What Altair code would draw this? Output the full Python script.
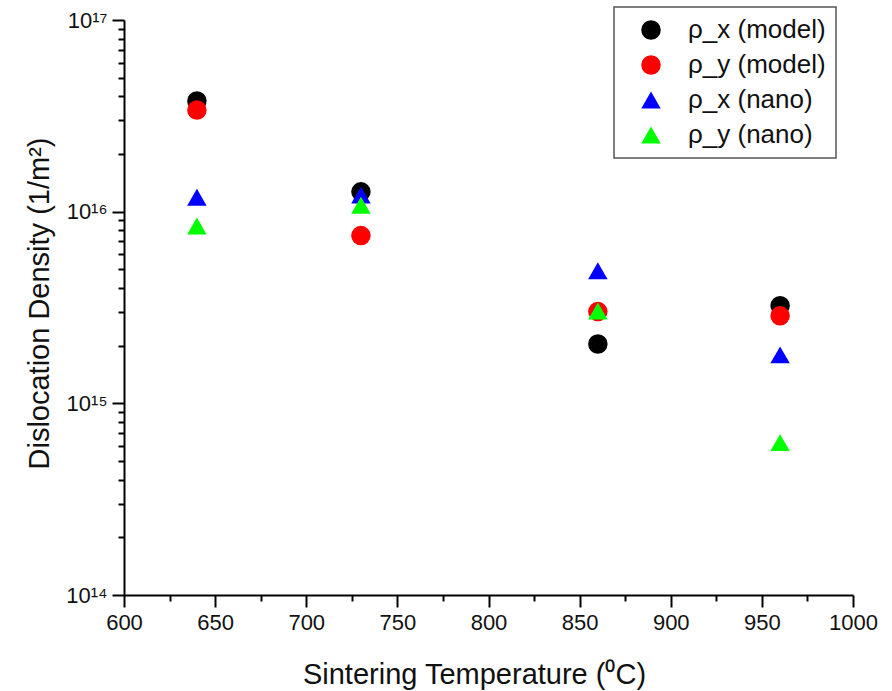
import altair as alt
import pandas as pd

temps = [640, 730, 860, 960]
rho_x_model = [3.78e16, 1.27e16, 2.04e15, 3.23e15]
rho_y_model = [3.39e16, 7.5e15, 3.01e15, 2.86e15]
rho_x_nano = [1.19e16, 1.22e16, 4.92e15, 1.79e15]
rho_y_nano = [8.42e15, 1.08e16, 3.03e15, 6.24e14]

series = ["ρ_x (model)", "ρ_y (model)", "ρ_x (nano)", "ρ_y (nano)"]
colors = ["#000000", "#ff0000", "#0000ff", "#00ff00"]
shapes = ["circle", "circle", "triangle-up", "triangle-up"]
sizes = [380, 380, 540, 540]

y_ticks = [m * 10 ** e for e in range(14, 17) for m in range(1, 10)] + [1e17]
x_ticks = list(range(600, 1001, 25))

rows = []
i = 0
for name, vals in zip(series, [rho_x_model, rho_y_model, rho_x_nano, rho_y_nano]):
    for t, v in zip(temps, vals):
        rows.append({"T": t, "rho": v, "series": name, "idx": i})
        i += 1
df = pd.DataFrame(rows)

FONT = "Liberation Sans"

is_decade = "abs(log(datum.value)/LN10 - round(log(datum.value)/LN10)) < 1e-6"
y_label = ("datum.value == 1e14 ? '10¹⁴' : datum.value == 1e15 ? '10¹⁵' : "
           "datum.value == 1e16 ? '10¹⁶' : datum.value == 1e17 ? '10¹⁷' : ''")

chart = alt.Chart(df).mark_point(filled=True, opacity=1, strokeWidth=0).encode(
    x=alt.X("T:Q",
            scale=alt.Scale(domain=[600, 1000], nice=False, zero=False),
            axis=alt.Axis(values=x_ticks, format="d",
                          labelExpr="datum.value % 50 == 0 ? datum.label : ''",
                          tickSize={"condition": {"test": "datum.value % 50 == 0", "value": 12}, "value": 6},
                          title="Sintering Temperature (⁰C)",
                          titleBaseline="alphabetic", titleY=88, titleX=350,
                          labelPadding=5, labelOverlap=False, labelFlush=False)),
    y=alt.Y("rho:Q",
            scale=alt.Scale(type="log", domain=[1e14, 1e17], nice=False),
            axis=alt.Axis(values=y_ticks,
                          labelExpr=y_label,
                          tickSize={"condition": {"test": is_decade, "value": 12}, "value": 6},
                          title="Dislocation Density (1/m²)",
                          titleBaseline="alphabetic", titleX=-76, titleY=283,
                          labelPadding=5, labelOverlap=False, labelFlush=False)),
    color=alt.Color("series:N", scale=alt.Scale(domain=series, range=colors),
                    legend=alt.Legend(title=None)),
    shape=alt.Shape("series:N", scale=alt.Scale(domain=series, range=shapes),
                    legend=alt.Legend(title=None)),
    size=alt.Size("series:N", scale=alt.Scale(domain=series, range=sizes), legend=None),
    order=alt.Order("idx:Q"),
).properties(
    width=729, height=575,
    autosize=alt.AutoSizeParams(type="none"),
    padding={"left": 124, "top": 20, "right": 39, "bottom": 96},
).configure_view(
    stroke=None
).configure_axis(
    domainColor="#000000", domainWidth=2,
    tickColor="#000000", tickWidth=2,
    grid=False,
    labelFont=FONT, labelFontSize=22, labelColor="#111111",
    titleFont=FONT, titleFontSize=29, titleFontWeight="normal", titleColor="#111111",
).configure_legend(
    orient="none", legendX=490, legendY=-13,
    strokeColor="#555555", fillColor="#ffffff", strokeWidth=1.5,
    padding=10, rowPadding=9, symbolOffset=14,
    symbolSize=420, symbolStrokeWidth=0, symbolType="circle",
    labelFont=FONT, labelFontSize=26, labelColor="#111111", labelOffset=24,
)

chart.save("out.html", embed_options={"renderer": "svg", "actions": False})
